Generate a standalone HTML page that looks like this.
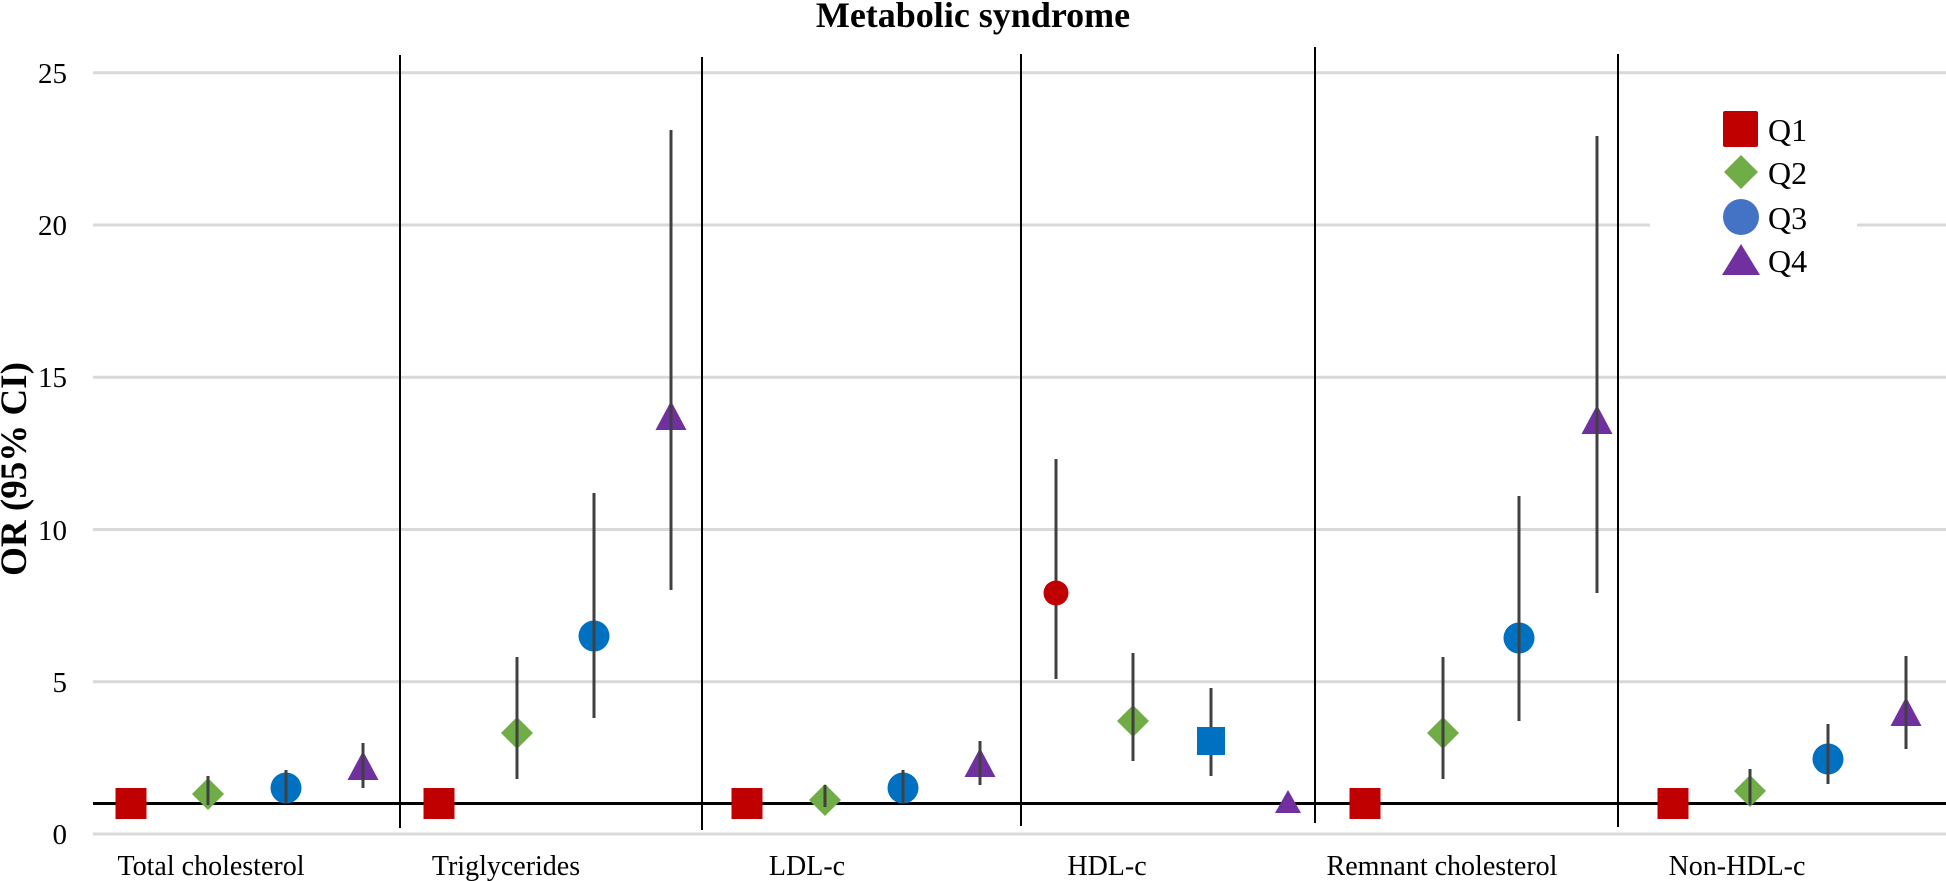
<!DOCTYPE html>
<html><head><meta charset="utf-8"><style>html,body{margin:0;padding:0;background:#fff}svg{display:block}</style></head>
<body>
<svg width="1946" height="881" viewBox="0 0 1946 881" xmlns="http://www.w3.org/2000/svg" font-family="Liberation Serif, serif">
<g stroke="#d9d9d9" stroke-width="3">
<line x1="93" x2="1946" y1="834" y2="834"/>
<line x1="93" x2="1946" y1="681.7" y2="681.7"/>
<line x1="93" x2="1946" y1="529.5" y2="529.5"/>
<line x1="93" x2="1946" y1="377.2" y2="377.2"/>
<line x1="93" x2="1650" y1="225" y2="225"/>
<line x1="1857" x2="1946" y1="225" y2="225"/>
<line x1="93" x2="1946" y1="72.7" y2="72.7"/>
</g>
<g font-size="29" text-anchor="end" fill="#000">
<text x="67" y="844">0</text><text x="67" y="692">5</text><text x="67" y="540">10</text><text x="67" y="387">15</text><text x="67" y="235">20</text><text x="67" y="83">25</text>
</g>
<text x="973" y="27" font-size="36" font-weight="bold" text-anchor="middle">Metabolic syndrome</text>
<text transform="translate(26,469) rotate(-90)" font-size="37" font-weight="bold" text-anchor="middle">OR (95% CI)</text>
<g stroke="#000" stroke-width="2">
<line x1="400" x2="400" y1="55" y2="828"/>
<line x1="702" x2="702" y1="57" y2="830"/>
<line x1="1021" x2="1021" y1="54" y2="826"/>
<line x1="1315" x2="1315" y1="47" y2="823"/>
<line x1="1618" x2="1618" y1="54" y2="827"/>
</g>
<line x1="93" x2="1946" y1="803.5" y2="803.5" stroke="#000" stroke-width="3"/>
<g font-size="28" text-anchor="middle">
<text x="211" y="875">Total cholesterol</text>
<text x="506" y="875">Triglycerides</text>
<text x="807" y="875">LDL-c</text>
<text x="1107" y="875">HDL-c</text>
<text x="1442" y="875">Remnant cholesterol</text>
<text x="1737" y="875">Non-HDL-c</text>
</g>
<defs>
<g id="sq"><rect x="-15.5" y="-15.5" width="31" height="31" fill="#c00000"/></g>
<g id="di"><polygon points="0,-16 16,0 0,16 -16,0" fill="#70ad47"/></g>
<g id="ci"><circle r="15.5" fill="#0070c0"/></g>
<g id="tr"><polygon points="0,-19 15.5,10 -15.5,10" fill="#7030a0"/></g>
</defs>
<g>
<use href="#sq" x="131" y="803.5"/>
<use href="#di" x="208" y="794"/><line x1="208" x2="208" y1="805" y2="776" stroke="#404040" stroke-width="3"/>
<use href="#ci" x="286" y="788"/><line x1="286" x2="286" y1="803" y2="770" stroke="#404040" stroke-width="3"/>
<use href="#tr" x="363" y="770"/><line x1="363" x2="363" y1="788" y2="743" stroke="#404040" stroke-width="3"/>
<use href="#sq" x="439" y="803.5"/>
<use href="#di" x="517" y="733"/><line x1="517" x2="517" y1="779" y2="657" stroke="#404040" stroke-width="3"/>
<use href="#ci" x="594" y="636"/><line x1="594" x2="594" y1="718" y2="493" stroke="#404040" stroke-width="3"/>
<use href="#tr" x="671" y="420"/><line x1="671" x2="671" y1="590" y2="130" stroke="#404040" stroke-width="3"/>
<use href="#sq" x="747" y="803.5"/>
<use href="#di" x="825" y="800"/><line x1="825" x2="825" y1="807" y2="785" stroke="#404040" stroke-width="3"/>
<use href="#ci" x="903" y="788"/><line x1="903" x2="903" y1="803" y2="770" stroke="#404040" stroke-width="3"/>
<use href="#tr" x="980" y="767"/><line x1="980" x2="980" y1="785" y2="741" stroke="#404040" stroke-width="3"/>
<line x1="1056" x2="1056" y1="679" y2="459" stroke="#404040" stroke-width="3"/>
<circle cx="1056" cy="593" r="12.5" fill="#c00000"/>
<use href="#di" x="1133" y="721"/><line x1="1133" x2="1133" y1="761" y2="653" stroke="#404040" stroke-width="3"/>
<line x1="1211" x2="1211" y1="776" y2="688" stroke="#404040" stroke-width="3"/>
<rect x="1197" y="727" width="28" height="28" fill="#0070c0"/>
<polygon points="1288,790 1301,813 1275,813" fill="#7030a0"/>
<use href="#sq" x="1365" y="803.5"/>
<use href="#di" x="1443" y="733"/><line x1="1443" x2="1443" y1="779" y2="657" stroke="#404040" stroke-width="3"/>
<use href="#ci" x="1519" y="638"/><line x1="1519" x2="1519" y1="721" y2="496" stroke="#404040" stroke-width="3"/>
<use href="#tr" x="1597" y="424"/><line x1="1597" x2="1597" y1="593" y2="136" stroke="#404040" stroke-width="3"/>
<use href="#sq" x="1673" y="803.5"/>
<use href="#di" x="1750" y="791"/><line x1="1750" x2="1750" y1="805" y2="769" stroke="#404040" stroke-width="3"/>
<use href="#ci" x="1828" y="759"/><line x1="1828" x2="1828" y1="784" y2="724" stroke="#404040" stroke-width="3"/>
<use href="#tr" x="1906" y="716"/><line x1="1906" x2="1906" y1="749" y2="656" stroke="#404040" stroke-width="3"/>
</g>
<rect x="1723" y="111" width="35" height="36" rx="2" fill="#c00000"/>
<polygon points="1741,155 1758,172 1741,189 1724,172" fill="#70ad47"/>
<circle cx="1741" cy="217" r="18" fill="#4472c4"/>
<polygon points="1741,244 1760,275 1722,275" fill="#7030a0"/>
<g font-size="32">
<text x="1768" y="141">Q1</text><text x="1768" y="184">Q2</text><text x="1768" y="229">Q3</text><text x="1768" y="272">Q4</text>
</g>
</svg>
</body></html>
